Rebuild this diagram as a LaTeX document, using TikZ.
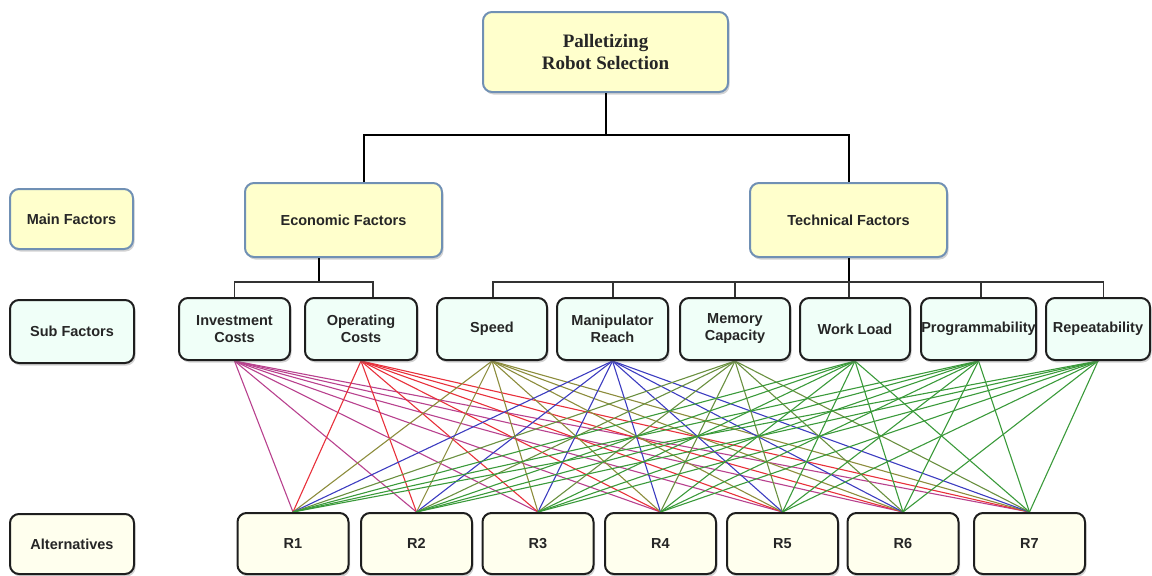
\documentclass[tikz,border=0pt]{standalone}
\usepackage{fontspec}
\setmainfont{Liberation Sans}
\newfontfamily\titlefont{Liberation Serif}
\usetikzlibrary{shadows,calc,backgrounds}
\definecolor{yel}{HTML}{FFFFCC}
\definecolor{bluebd}{HTML}{7090B4}
\definecolor{cyanf}{HTML}{F0FFF8}
\definecolor{cream}{HTML}{FFFFEE}
\definecolor{darkbd}{HTML}{1E1E1E}
\definecolor{cinv}{HTML}{B8418E}
\definecolor{copc}{HTML}{E8303A}
\definecolor{cspd}{HTML}{8C8C3C}
\definecolor{cman}{HTML}{3C3CC0}
\definecolor{cmem}{HTML}{6A9040}
\definecolor{cgrn}{HTML}{3A9A3A}
\begin{document}
\begin{tikzpicture}[x=1pt,y=-1pt,
  base/.style={rounded corners=9pt, line width=2pt, align=center,
    font=\bfseries\fontsize{14.5}{17}\selectfont, text=black!85, inner sep=0pt,
    drop shadow={shadow xshift=1.5pt, shadow yshift=-2.5pt, opacity=0.35}},
  mainbox/.style={base, fill=yel, draw=bluebd},
  subbox/.style={base, fill=cyanf, draw=darkbd, minimum height=62pt},
  altbox/.style={base, fill=cream, draw=darkbd, minimum height=61pt, minimum width=111pt},
  tree/.style={line width=2pt, black},
  subtree/.style={line width=1.2pt, black!80},
  cl/.style={line width=1.1pt}
]
\useasboundingbox (0,0) rectangle (1152,576);

% top
\node[mainbox, minimum width=245pt, minimum height=80pt,
      font=\titlefont\bfseries\fontsize{19}{22}\selectfont] (top) at (605.5,52) {Palletizing\\Robot Selection};

% main factors
\node[mainbox, minimum width=123pt, minimum height=60pt] (mainlbl) at (71.5,219) {Main Factors};
\node[mainbox, minimum width=197pt, minimum height=74pt] (econ) at (343.5,220) {Economic Factors};
\node[mainbox, minimum width=197pt, minimum height=74pt] (tech) at (848.5,220) {Technical Factors};

% sub factors
\node[subbox, minimum width=124pt, minimum height=63pt] (sublbl) at (72,331.5) {Sub Factors};
\node[subbox, minimum width=111pt] (inv)  at (234.5,329) {Investment\\Costs};
\node[subbox, minimum width=112pt] (opc)  at (361,329) {Operating\\Costs};
\node[subbox, minimum width=110pt] (spd)  at (492,329) {Speed};
\node[subbox, minimum width=111pt] (man)  at (612.5,329) {Manipulator\\Reach};
\node[subbox, minimum width=110pt] (mem)  at (735,329) {Memory\\Capacity};
\node[subbox, minimum width=110pt] (wl)   at (855,329) {Work Load};
\node[subbox, minimum width=115pt] (prog) at (978.5,329) {Programmability};
\node[subbox, minimum width=104pt] (rep)  at (1098,329) {Repeatability};

% alternatives
\node[altbox, minimum width=124pt, minimum height=60pt] (altlbl) at (72,544) {Alternatives};
\node[altbox] (r1) at (293,543.5) {R1};
\node[altbox] (r2) at (416.5,543.5) {R2};
\node[altbox] (r3) at (538,543.5) {R3};
\node[altbox] (r4) at (660.5,543.5) {R4};
\node[altbox] (r5) at (782.5,543.5) {R5};
\node[altbox] (r6) at (903,543.5) {R6};
\node[altbox] (r7) at (1029.5,543.5) {R7};

% tree connectors
\coordinate (tj) at ($(top.south)+(0,42)$);
\draw[tree] (top.south) -- (tj);
\draw[tree] ([xshift=20.5pt]econ.north) |- (tj) -| (tech.north);

\coordinate (ej) at ($([xshift=-24.5pt]econ.south)+(0,24)$);
\draw[tree] ([xshift=-24.5pt]econ.south) -- (ej);
\draw[subtree] (inv.north) |- (ej) -| ([xshift=12pt]opc.north);

\coordinate (tjj) at ($(tech.south)+(0,24)$);
\draw[tree] (tech.south) -- (tjj);
\draw[subtree] ([xshift=1pt]spd.north) |- ([xshift=5.5pt]rep.north |- tjj) -- ([xshift=5.5pt]rep.north);
\foreach \n/\d in {man/0.5, mem/0, prog/2.5} {
  \draw[subtree] ([xshift=\d pt]\n.north |- tjj) -- ([xshift=\d pt]\n.north);
}
\draw[subtree] ([xshift=-6pt]wl.north |- tjj) -- ([xshift=-6pt]wl.north);

% alternative links
\begin{scope}[on background layer]
\foreach \s/\c in {inv/cinv, opc/copc, spd/cspd, man/cman, mem/cmem, wl/cgrn, prog/cgrn, rep/cgrn} {
  \foreach \r in {r1,r2,r3,r4,r5,r6,r7} {
    \draw[cl, \c] (\s.south) -- (\r.north);
  }
}
\end{scope}
\end{tikzpicture}
\end{document}
